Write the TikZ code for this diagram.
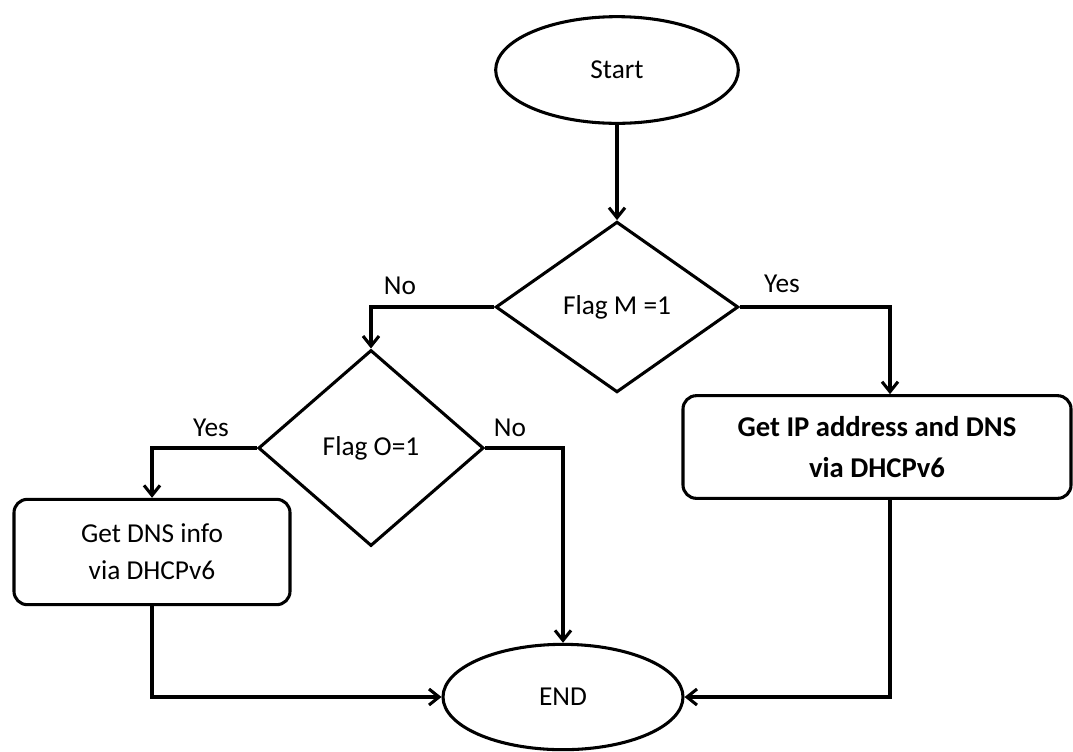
\documentclass[tikz,border=0pt]{standalone}
\usepackage{fontspec}
\setmainfont{Carlito}
\usetikzlibrary{arrows.meta,shapes.geometric}
\tikzset{%
	startstop/.style= {draw, ellipse, minimum width=182pt, minimum height=80pt, inner sep=0pt, text centered},
	decision/.style = {draw, diamond, inner sep=0pt, text centered},
	process/.style  = {draw, rectangle, rounded corners=10pt, align=center, font=\fontsize{20.5}{28}\selectfont},
	boldproc/.style = {process, font=\bfseries\fontsize{21.5}{31}\selectfont},
	arrow/.style    = {-{Straight Barb[length=7.5pt,width=12pt]}},
}
\begin{document}
\begin{tikzpicture}[x=0.75pt, y=-0.75pt, line width=2.3pt, font=\fontsize{20.5}{24}\selectfont]
	\useasboundingbox (0,0) rectangle (1073,751);
	
	\node[startstop] (start) at (617,70) {Start};
	\node[decision, minimum width=182pt, minimum height=128pt] (flagm) at (617,307) {Flag M =1\hspace{14pt}};
	\node[decision, minimum width=169pt, minimum height=147pt] (flago) at (371,448) {Flag O=1\hspace{8pt}};
	\node[process, minimum width=207pt, minimum height=79pt] (dnsinfo) at (152,552) {Get DNS info\\via DHCPv6};
	\node[boldproc, minimum width=291pt, minimum height=77pt] (ipdns) at (877,447) {Get IP address and DNS\\via DHCPv6};
	\node[startstop, minimum width=180pt, minimum height=79pt] (stop) at (563,697) {END};
	
	\coordinate (mright) at (890,307);
	
	\draw[arrow] (start) -- (flagm);
	\draw[arrow] (flagm.west) -| (flago.north);
	\draw[arrow] (flagm.east) -- (mright) -- (mright |- ipdns.north);
	\draw[arrow] (flago.west) -| (dnsinfo.north);
	\draw[arrow] (flago.east) -| (stop.north);
	\draw[arrow] (dnsinfo.south) |- (stop.west);
	\draw[arrow] (mright |- ipdns.south) |- (stop.east);
	
	\node (mno) at (400,286) {No};
	\node (myes) at (782,284) {Yes};
	\node (oyes) at (211,428) {Yes};
	\node (ono) at (510,428) {No};
\end{tikzpicture}
\end{document}
